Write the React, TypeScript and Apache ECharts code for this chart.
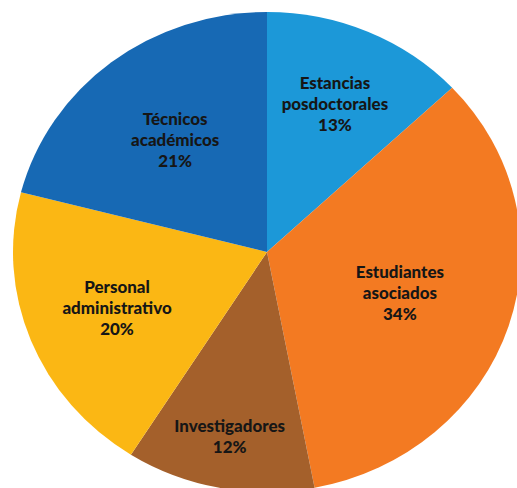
import React, { useEffect, useRef } from "react";
import * as echarts from "echarts";

const categories = [
  "Estancias posdoctorales",
  "Estudiantes asociados",
  "Investigadores",
  "Personal administrativo",
  "Técnicos académicos",
];
const values = [13, 34, 12, 20, 21];
const colors = ["#1C98D8", "#F37A22", "#A4602B", "#FBB714", "#1769B4"];
// radial placement of each label as a fraction of the radius
const labelRadius = [0.673, 0.55, 0.785, 0.635, 0.59];

const CX = 267;
const CY = 252;
const R = 240;
const STRETCH = 254 / 240;

export default function App() {
  const ref = useRef<HTMLDivElement>(null);
  useEffect(() => {
    if (!ref.current) return;
    const chart = echarts.init(ref.current, undefined, { renderer: "svg" });
    const total = values.reduce((a, b) => a + b, 0);
    const mids: number[] = [];
    let acc = 0;
    values.forEach((v) => {
      mids.push(((acc + v / 2) / total) * Math.PI * 2);
      acc += v;
    });
    chart.setOption({
      animation: false,
      series: [
        {
          type: "pie",
          center: [CX, CY],
          radius: [0, R],
          startAngle: 90,
          clockwise: true,
          itemStyle: { borderWidth: 0 },
          emphasis: { disabled: true },
          data: categories.map((name, i) => ({
            name,
            value: values[i],
            itemStyle: { color: colors[i] },
          })),
          label: {
            show: true,
            position: "inside",
            color: "#161616",
            fontFamily: "Lato",
            fontWeight: 900,
            fontSize: 16,
            lineHeight: 21,
            align: "center",
            formatter: (p: any) =>
              p.name.replace(" ", "\n") + "\n" + Math.round(p.percent) + "%",
          },
          labelLine: { show: false },
          labelLayout: (p: any) => {
            const i = p.dataIndex;
            const a = mids[i];
            const d = labelRadius[i] * R;
            return {
              x: CX + d * Math.sin(a),
              y: CY - d * Math.cos(a),
              align: "center",
              verticalAlign: "middle",
            };
          },
        },
      ],
    });
    return () => chart.dispose();
  }, []);
  return (
    <div
      style={{
        position: "fixed",
        left: 0,
        top: 0,
        width: 517,
        height: 488,
        overflow: "hidden",
        background: "#fff",
      }}
    >
      <div
        ref={ref}
        style={{
          width: 517,
          height: 488,
          transform: `scaleX(${STRETCH})`,
          transformOrigin: `${CX}px ${CY}px`,
        }}
      />
    </div>
  );
}
